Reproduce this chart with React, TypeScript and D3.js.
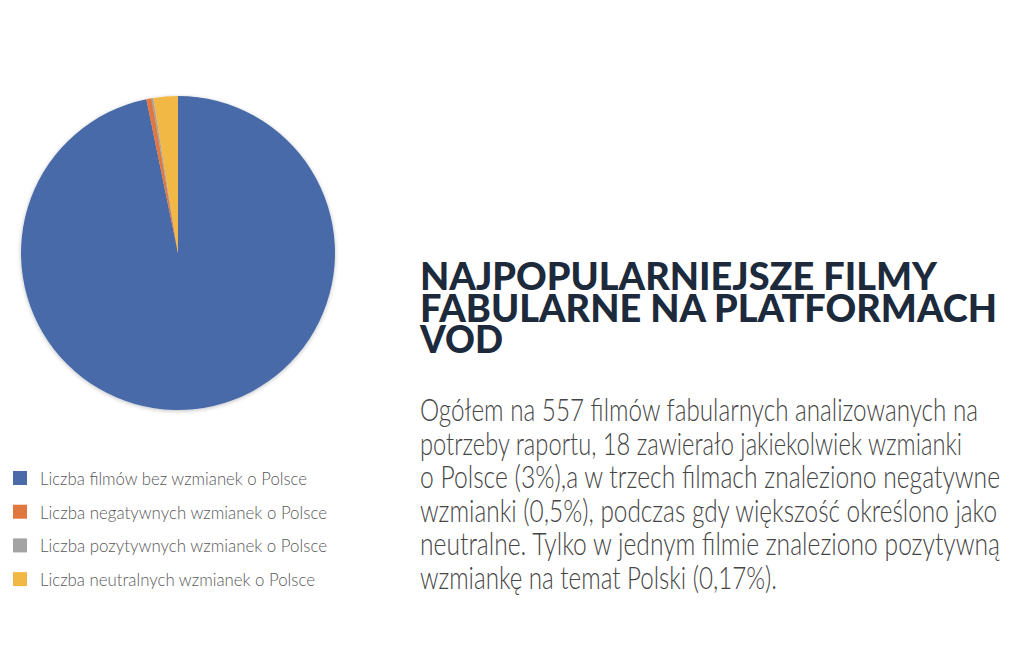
import React, { useEffect, useRef } from 'react';
import * as d3 from 'd3';

const categories = [
  'Liczba filmów bez wzmianek o Polsce',
  'Liczba negatywnych wzmianek o Polsce',
  'Liczba pozytywnych wzmianek o Polsce',
  'Liczba neutralnych wzmianek o Polsce',
];
const values = [539, 3, 1, 14];
const colors = ['#4a6ba8', '#e0773f', '#a3a3a3', '#f2b845'];

const titleLines = ['NAJPOPULARNIEJSZE FILMY', 'FABULARNE NA PLATFORMACH', 'VOD'];
const titleWidths = [517, 577, 83];
const bodyLines = [
  'Ogółem na 557 filmów fabularnych analizowanych na',
  'potrzeby raportu, 18 zawierało jakiekolwiek wzmianki',
  'o Polsce (3%),a w trzech filmach znaleziono negatywne',
  'wzmianki (0,5%), podczas gdy większość określono jako',
  'neutralne. Tylko w jednym filmie znaleziono pozytywną',
  'wzmiankę na temat Polski (0,17%).',
];
const bodyWidths = [558, 542, 580, 577, 580, 357];
const legendWidths = [267, 287, 287, 275];

const App: React.FC = () => {
  const svgRef = useRef<SVGSVGElement>(null);

  useEffect(() => {
    if (!svgRef.current) return;
    const width = 1024;
    const height = 668;
    const svg = d3.select(svgRef.current)
      .attr('width', width)
      .attr('height', height)
      .html('');

    svg.append('rect').attr('width', width).attr('height', height).attr('fill', '#ffffff');

    const cx = 178;
    const cy = 253;
    const r = 157;

    const pie = d3.pie<number>().sort(null).value(d => d);
    const arc = d3.arc<d3.PieArcDatum<number>>().innerRadius(0).outerRadius(r);

    const defs = svg.append('defs');
    const f = defs.append('filter').attr('id', 'sh').attr('x', '-10%').attr('y', '-10%').attr('width', '120%').attr('height', '120%');
    f.append('feGaussianBlur').attr('in', 'SourceAlpha').attr('stdDeviation', 2);
    f.append('feOffset').attr('dx', 0).attr('dy', 1).attr('result', 'b');
    f.append('feComponentTransfer').append('feFuncA').attr('type', 'linear').attr('slope', 0.25);
    const m = f.append('feMerge');
    m.append('feMergeNode');
    m.append('feMergeNode').attr('in', 'SourceGraphic');

    const g = svg.append('g').attr('transform', `translate(${cx},${cy})`).attr('filter', 'url(#sh)');
    g.selectAll('path')
      .data(pie(values))
      .join('path')
      .attr('d', arc)
      .attr('fill', (_, i) => colors[i]);

    // legend
    const legend = svg.append('g').attr('transform', 'translate(13,471)');
    categories.forEach((c, i) => {
      const row = legend.append('g').attr('transform', `translate(0,${i * 33.7})`);
      row.append('rect').attr('width', 14).attr('height', 14).attr('fill', colors[i]);
      row.append('text')
        .attr('x', 27).attr('y', 14)
        .attr('font-family', 'Lato, sans-serif')
        .attr('font-weight', 300)
        .attr('font-size', 18.5)
        .attr('fill', '#595959')
        .attr('textLength', legendWidths[i])
        .attr('lengthAdjust', 'spacingAndGlyphs')
        .text(c);
    });

    // title
    titleLines.forEach((t, i) => {
      svg.append('text')
        .attr('x', 420).attr('y', 290 + i * 31.5)
        .attr('font-family', 'Lato, sans-serif')
        .attr('font-weight', 900)
        .attr('font-size', 38)
        .attr('fill', '#1c2a3c')
        .attr('textLength', titleWidths[i])
        .attr('lengthAdjust', 'spacingAndGlyphs')
        .text(t);
    });

    // body
    bodyLines.forEach((t, i) => {
      svg.append('text')
        .attr('x', 420).attr('y', 421 + i * 33.5)
        .attr('font-family', 'Lato, sans-serif')
        .attr('font-weight', 300)
        .attr('font-size', 32)
        .attr('fill', '#454545')
        .attr('textLength', bodyWidths[i])
        .attr('lengthAdjust', 'spacingAndGlyphs')
        .text(t);
    });
  }, []);

  return (
    <div style={{ position: 'fixed', left: 0, top: 0 }}>
      <svg ref={svgRef} style={{ display: 'block' }}></svg>
    </div>
  );
};

export default App;
